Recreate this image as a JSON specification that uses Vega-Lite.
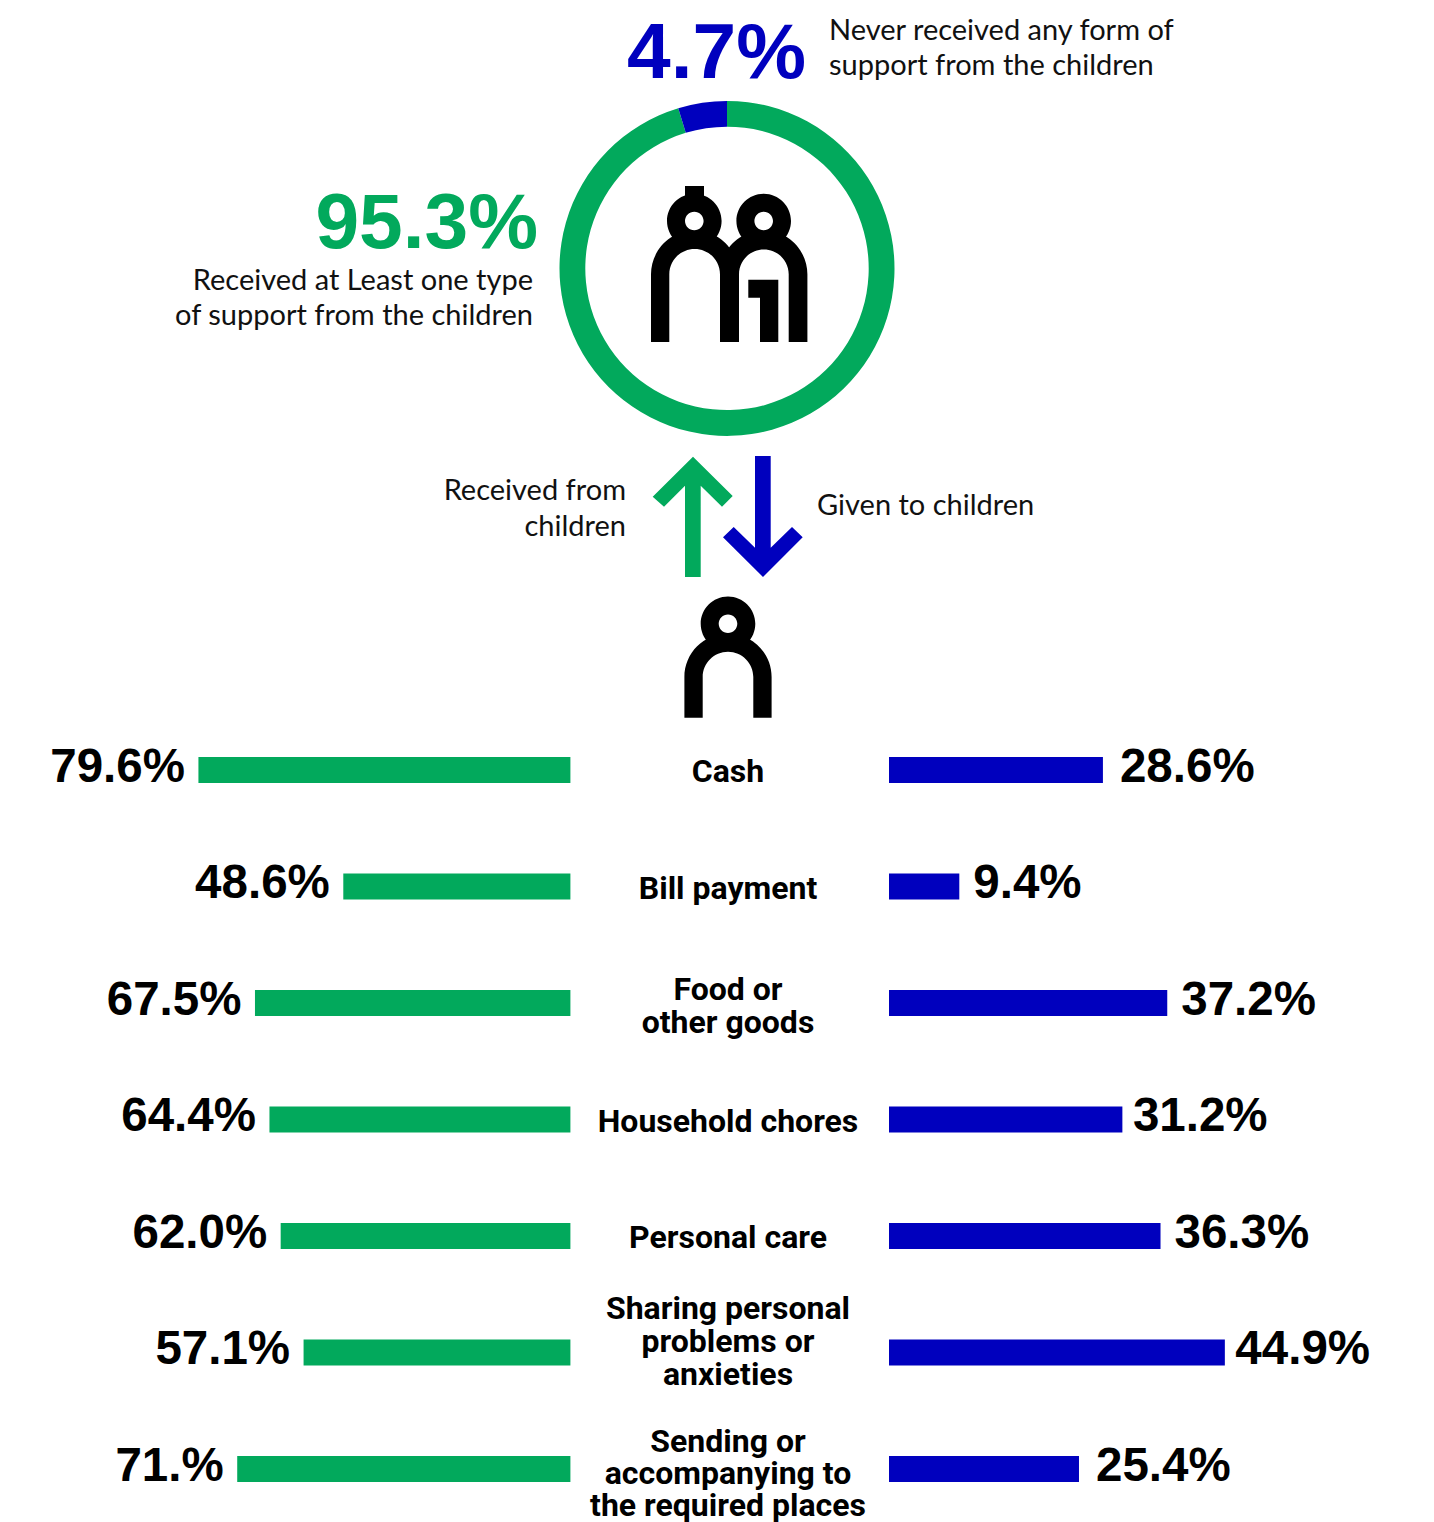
{
  "$schema": "https://vega.github.io/schema/vega-lite/v6.json",
  "width": 1434,
  "height": 1522,
  "padding": 0,
  "background": "white",
  "config": {"view": {"stroke": null}, "axis": {"disable": true}},
  "datasets": {
    "support": [
      {"type": "Cash", "direction": "Received", "pct": 79.6, "label": "79.6%"},
      {"type": "Bill payment", "direction": "Received", "pct": 48.6, "label": "48.6%"},
      {"type": "Food or\nother goods", "direction": "Received", "pct": 67.5, "label": "67.5%"},
      {"type": "Household chores", "direction": "Received", "pct": 64.4, "label": "64.4%"},
      {"type": "Personal care", "direction": "Received", "pct": 62.0, "label": "62.0%"},
      {"type": "Sharing personal\nproblems or\nanxieties", "direction": "Received", "pct": 57.1, "label": "57.1%"},
      {"type": "Sending or\naccompanying to\nthe required places", "direction": "Received", "pct": 71.3, "label": "71.%"},
      {"type": "Cash", "direction": "Given", "pct": 28.6, "label": "28.6%"},
      {"type": "Bill payment", "direction": "Given", "pct": 9.4, "label": "9.4%"},
      {"type": "Food or\nother goods", "direction": "Given", "pct": 37.2, "label": "37.2%"},
      {"type": "Household chores", "direction": "Given", "pct": 31.2, "label": "31.2%"},
      {"type": "Personal care", "direction": "Given", "pct": 36.3, "label": "36.3%"},
      {"type": "Sharing personal\nproblems or\nanxieties", "direction": "Given", "pct": 44.9, "label": "44.9%"},
      {"type": "Sending or\naccompanying to\nthe required places", "direction": "Given", "pct": 25.4, "label": "25.4%"}
    ],
    "ring": [
      {"segment": "Received", "share": 95.3, "label": "95.3%", "note": "Received at Least one type\nof support from the children"},
      {"segment": "Never", "share": 4.7, "label": "4.7%", "note": "Never received any form of\nsupport from the children"}
    ],
    "arrows": [
      {"direction": "Received", "note": "Received from\nchildren"},
      {"direction": "Given", "note": "Given to children"}
    ],
    "people": [
      {"who": "Children"},
      {"who": "Parent"}
    ]
  },
  "resolve": {"scale": {"x": "independent", "y": "independent", "color": "independent", "shape": "independent", "theta": "independent"}},
  "layer": [
    {
      "data": {"name": "ring"},
      "mark": {"type": "arc", "innerRadius": 141.7, "outerRadius": 167.5},
      "encoding": {
        "theta": {"field": "share", "type": "quantitative", "stack": true, "scale": {"domain": [0, 100], "range": [0, 6.283185]}},
        "order": {"field": "share", "type": "quantitative", "sort": "descending"},
        "x": {"field": "ring", "type": "nominal", "axis": null, "scale": {"type": "point", "padding": 0, "range": [727, 727]}},
        "y": {"field": "ring", "type": "nominal", "axis": null, "scale": {"type": "point", "padding": 0, "range": [268.4, 268.4]}},
        "color": {"field": "segment", "type": "nominal", "legend": null, "scale": {"domain": ["Received", "Never"], "range": ["#02A95C", "#0000BE"]}}
      }
    },
    {
      "data": {"name": "ring"},
      "mark": {"type": "text", "align": "right", "baseline": "alphabetic", "font": "Liberation Sans", "fontWeight": "bold", "fontSize": 78.5},
      "encoding": {
        "x": {"field": "segment", "type": "nominal", "axis": null, "scale": {"type": "point", "padding": 0, "domain": ["Received", "Never"], "range": [538, 806]}},
        "y": {"field": "segment", "type": "nominal", "axis": null, "scale": {"type": "point", "padding": 0, "domain": ["Received", "Never"], "range": [248, 78]}},
        "text": {"field": "label"},
        "color": {"field": "segment", "type": "nominal", "legend": null, "scale": {"domain": ["Received", "Never"], "range": ["#02A95C", "#0000BE"]}}
      }
    },
    {
      "data": {"name": "ring"},
      "transform": [{"filter": "datum.segment === 'Never'"}],
      "mark": {"type": "text", "align": "left", "baseline": "middle", "font": "Lato", "fontSize": 29, "lineHeight": 34.5, "lineBreak": "\n", "color": "#111111"},
      "encoding": {
        "x": {"field": "segment", "type": "nominal", "axis": null, "scale": {"type": "point", "padding": 0, "range": [829, 829]}},
        "y": {"field": "segment", "type": "nominal", "axis": null, "scale": {"type": "point", "padding": 0, "range": [31, 31]}},
        "text": {"field": "note"}
      }
    },
    {
      "data": {"name": "ring"},
      "transform": [{"filter": "datum.segment === 'Received'"}],
      "mark": {"type": "text", "align": "right", "baseline": "middle", "font": "Lato", "fontSize": 29, "lineHeight": 35, "lineBreak": "\n", "color": "#111111"},
      "encoding": {
        "x": {"field": "segment", "type": "nominal", "axis": null, "scale": {"type": "point", "padding": 0, "range": [533, 533]}},
        "y": {"field": "segment", "type": "nominal", "axis": null, "scale": {"type": "point", "padding": 0, "range": [281, 281]}},
        "text": {"field": "note"}
      }
    },
    {
      "data": {"name": "people"},
      "mark": {"type": "point", "filled": true, "size": 4, "opacity": 1, "strokeWidth": 0, "color": "#000000"},
      "encoding": {
        "x": {"field": "who", "type": "nominal", "axis": null, "scale": {"type": "point", "padding": 0, "domain": ["Children", "Parent"], "range": [727, 728]}},
        "y": {"field": "who", "type": "nominal", "axis": null, "scale": {"type": "point", "padding": 0, "domain": ["Children", "Parent"], "range": [268, 660]}},
        "shape": {"field": "who", "type": "nominal", "legend": null, "scale": {"domain": ["Children", "Parent"], "range": [
          "M-60 -47A27.3 27.3 0 1 1 -5.4 -47A27.3 27.3 0 1 1 -60 -47ZM-42 -47A9.3 9.3 0 1 0 -23.4 -47A9.3 9.3 0 1 0 -42 -47ZM-42 -82H-23V-60H-42ZM9.4 -47A27.3 27.3 0 1 1 64 -47A27.3 27.3 0 1 1 9.4 -47ZM27.4 -47A9.3 9.3 0 1 0 46 -47A9.3 9.3 0 1 0 27.4 -47ZM-76 74V6.3A43.7 43.7 0 0 1 11.4 6.3V74H-7V6.3A25.35 25.35 0 0 0 -57.7 6.3V74ZM-7 74V6.3A43.7 43.7 0 0 1 80.4 6.3V74H61.7V6.3A24.85 24.85 0 0 0 12 6.3V74ZM21.3 11.7H51.3V74H33V29.7H21.3Z",
          "M-27.3 -36.3A27.3 27.3 0 1 1 27.3 -36.3A27.3 27.3 0 1 1 -27.3 -36.3ZM-9.3 -36.3A9.3 9.3 0 1 0 9.3 -36.3A9.3 9.3 0 1 0 -9.3 -36.3ZM-43.6 57.7V17A43.6 43.6 0 0 1 43.6 17V57.7H25.3V17A25.3 25.3 0 0 0 -25.3 17V57.7Z"
        ]}}
      }
    },
    {
      "data": {"name": "arrows"},
      "mark": {"type": "point", "filled": true, "size": 4, "opacity": 1, "strokeWidth": 0},
      "encoding": {
        "x": {"field": "direction", "type": "nominal", "axis": null, "scale": {"type": "point", "padding": 0, "domain": ["Received", "Given"], "range": [693, 763]}},
        "y": {"field": "direction", "type": "nominal", "axis": null, "scale": {"type": "point", "padding": 0, "domain": ["Received", "Given"], "range": [517, 517]}},
        "shape": {"field": "direction", "type": "nominal", "legend": null, "scale": {"domain": ["Received", "Given"], "range": [
          "M0 -60.3L39.7 -21L29 -10.3L7.7 -31.3V60H-8V-31.3L-29 -10.3L-40.3 -20.3Z",
          "M0 60L39.7 20.3L29 10L7.7 30.7V-61H-8V30.7L-29.3 10L-40 20.3Z"
        ]}},
        "color": {"field": "direction", "type": "nominal", "legend": null, "scale": {"domain": ["Received", "Given"], "range": ["#02A95C", "#0000BE"]}}
      }
    },
    {
      "data": {"name": "arrows"},
      "transform": [{"filter": "datum.direction === 'Received'"}],
      "mark": {"type": "text", "align": "right", "baseline": "middle", "font": "Lato", "fontSize": 29, "lineHeight": 36, "lineBreak": "\n", "color": "#111111"},
      "encoding": {
        "x": {"field": "direction", "type": "nominal", "axis": null, "scale": {"type": "point", "padding": 0, "range": [626, 626]}},
        "y": {"field": "direction", "type": "nominal", "axis": null, "scale": {"type": "point", "padding": 0, "range": [491, 491]}},
        "text": {"field": "note"}
      }
    },
    {
      "data": {"name": "arrows"},
      "transform": [{"filter": "datum.direction === 'Given'"}],
      "mark": {"type": "text", "align": "left", "baseline": "middle", "font": "Lato", "fontSize": 29, "color": "#111111"},
      "encoding": {
        "x": {"field": "direction", "type": "nominal", "axis": null, "scale": {"type": "point", "padding": 0, "range": [817, 817]}},
        "y": {"field": "direction", "type": "nominal", "axis": null, "scale": {"type": "point", "padding": 0, "range": [506, 506]}},
        "text": {"field": "note"}
      }
    },
    {
      "data": {"name": "support"},
      "transform": [{"filter": "datum.direction === 'Received'"}],
      "layer": [
        {"mark": {"type": "bar", "size": 26, "color": "#02A95C"}},
        {
          "mark": {"type": "text", "align": "right", "baseline": "middle", "dx": -13.5, "dy": -2.5, "font": "Liberation Sans", "fontWeight": "bold", "fontSize": 47.5, "color": "#000000"},
          "encoding": {"text": {"field": "label"}}
        }
      ],
      "encoding": {
        "x": {"field": "pct", "type": "quantitative", "axis": null, "scale": {"domain": [0, 100], "range": [570.4, 103.1], "zero": false, "nice": false}},
        "y": {"field": "type", "type": "nominal", "sort": null, "axis": null, "scale": {"type": "point", "padding": 0, "range": [770, 1469]}}
      }
    },
    {
      "data": {"name": "support"},
      "transform": [{"filter": "datum.direction === 'Given'"}],
      "layer": [
        {"mark": {"type": "bar", "size": 26, "color": "#0000BE"}},
        {
          "transform": [{"filter": "datum.pct === 28.6 || datum.pct === 25.4"}],
          "mark": {"type": "text", "align": "left", "baseline": "middle", "dx": 17, "dy": -2.5, "font": "Liberation Sans", "fontWeight": "bold", "fontSize": 47.5, "color": "#000000"},
          "encoding": {"text": {"field": "label"}}
        },
        {
          "transform": [{"filter": "datum.pct === 44.9 || datum.pct === 31.2"}],
          "mark": {"type": "text", "align": "left", "baseline": "middle", "dx": 10.5, "dy": -2.5, "font": "Liberation Sans", "fontWeight": "bold", "fontSize": 47.5, "color": "#000000"},
          "encoding": {"text": {"field": "label"}}
        },
        {
          "transform": [{"filter": "datum.pct === 9.4 || datum.pct === 37.2 || datum.pct === 36.3"}],
          "mark": {"type": "text", "align": "left", "baseline": "middle", "dx": 14, "dy": -2.5, "font": "Liberation Sans", "fontWeight": "bold", "fontSize": 47.5, "color": "#000000"},
          "encoding": {"text": {"field": "label"}}
        }
      ],
      "encoding": {
        "x": {"field": "pct", "type": "quantitative", "axis": null, "scale": {"domain": [0, 100], "range": [889, 1637], "zero": false, "nice": false}},
        "y": {"field": "type", "type": "nominal", "sort": null, "axis": null, "scale": {"type": "point", "padding": 0, "domain": ["Cash", "Bill payment", "Food or\nother goods", "Household chores", "Personal care", "Sharing personal\nproblems or\nanxieties", "Sending or\naccompanying to\nthe required places"], "range": [770, 1469]}}
      }
    },
    {
      "data": {"name": "support"},
      "transform": [{"filter": "datum.direction === 'Given'"}],
      "layer": [
        {
          "transform": [{"filter": "indexof(datum.type, '\\n') < 0"}],
          "mark": {"type": "text", "align": "center", "baseline": "middle", "dy": 2, "font": "Roboto", "fontWeight": "bold", "fontSize": 32, "lineHeight": 33, "lineBreak": "\n", "color": "#000000"}
        },
        {
          "transform": [{"filter": "indexof(datum.type, 'Food') === 0"}],
          "mark": {"type": "text", "align": "center", "baseline": "middle", "dy": -13, "font": "Roboto", "fontWeight": "bold", "fontSize": 32, "lineHeight": 33, "lineBreak": "\n", "color": "#000000"}
        },
        {
          "transform": [{"filter": "indexof(datum.type, 'Sharing') === 0"}],
          "mark": {"type": "text", "align": "center", "baseline": "middle", "dy": -44, "font": "Roboto", "fontWeight": "bold", "fontSize": 32, "lineHeight": 33, "lineBreak": "\n", "color": "#000000"}
        },
        {
          "transform": [{"filter": "indexof(datum.type, 'Sending') === 0"}],
          "mark": {"type": "text", "align": "center", "baseline": "middle", "dy": -27, "font": "Roboto", "fontWeight": "bold", "fontSize": 32, "lineHeight": 32, "lineBreak": "\n", "color": "#000000"}
        }
      ],
      "encoding": {
        "x": {"datum": "center", "type": "nominal", "axis": null, "scale": {"type": "point", "padding": 0, "range": [728, 728]}},
        "y": {"field": "type", "type": "nominal", "sort": null, "axis": null, "scale": {"type": "point", "padding": 0, "domain": ["Cash", "Bill payment", "Food or\nother goods", "Household chores", "Personal care", "Sharing personal\nproblems or\nanxieties", "Sending or\naccompanying to\nthe required places"], "range": [770, 1469]}},
        "text": {"field": "type"}
      }
    }
  ]
}
